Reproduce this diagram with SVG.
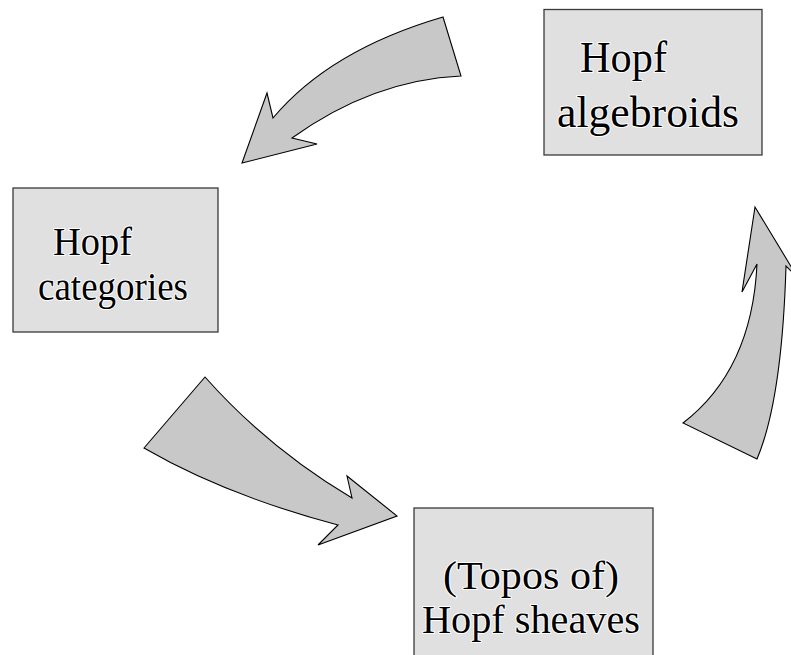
<svg xmlns="http://www.w3.org/2000/svg" width="791" height="655" viewBox="0 0 791 655">
<style>
.box{fill:#e0e0e0;stroke:#3a3a3a;stroke-width:1.3}
.arr{fill:#c8c8c8;stroke:#000;stroke-width:1.1;stroke-linejoin:miter}
.t{font-family:"Liberation Serif","DejaVu Serif",serif;fill:#000;stroke:#fff;stroke-width:2;paint-order:stroke;stroke-linejoin:round}
</style>
<rect width="791" height="655" fill="#fff"/>
<g id="connectors">
<path class="arr" d="M443,17 L461,76 Q373,80 292,138 L317,144 L242,163 L267,93 L273,118 Q330,50 443,17 Z"/>
<path class="arr" d="M683,423 Q752,370 757,264 L742,292 L755,207 L798,278 L786,266 Q782,400 757,459 Z"/>
<path class="arr" d="M205,377 L144,448 Q225,495 338,525 L318,545 L397,516 L347,476 L352,498 Q268,448 205,377 Z"/>
</g>
<g id="node-algebroids">
<rect class="box" x="544" y="9.5" width="218" height="145.5"/>
<text class="t" x="580" y="72" font-size="44" textLength="87" lengthAdjust="spacingAndGlyphs">Hopf</text>
<text class="t" x="557" y="127" font-size="44" textLength="182" lengthAdjust="spacingAndGlyphs">algebroids</text>
</g>
<g id="node-categories">
<rect class="box" x="13" y="188" width="205" height="144"/>
<text class="t" x="53" y="255" font-size="39" textLength="79" lengthAdjust="spacingAndGlyphs">Hopf</text>
<text class="t" x="38" y="300" font-size="39" textLength="150" lengthAdjust="spacingAndGlyphs">categories</text>
</g>
<g id="node-sheaves">
<rect class="box" x="414" y="508" width="239" height="180"/>
<text class="t" x="443" y="589" font-size="40" textLength="176" lengthAdjust="spacingAndGlyphs">(Topos of)</text>
<text class="t" x="422" y="633" font-size="40" textLength="218" lengthAdjust="spacingAndGlyphs">Hopf sheaves</text>
</g>
</svg>
